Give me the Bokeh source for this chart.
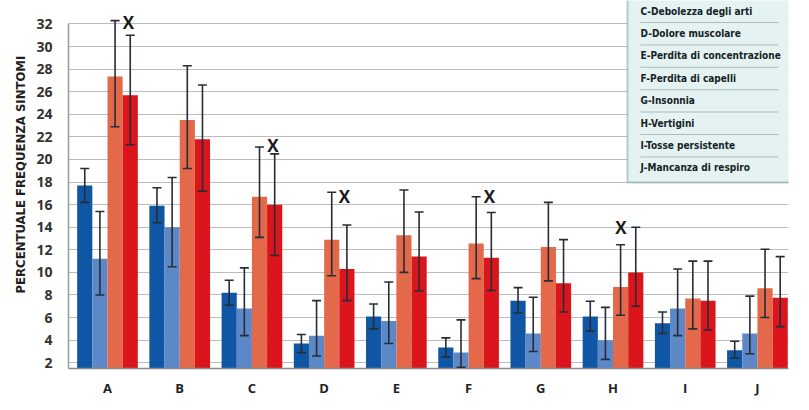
import numpy as np
from bokeh.plotting import figure
from bokeh.models import (ColumnDataSource, Whisker, TeeHead, FixedTicker, Range1d,
                          Label, BoxAnnotation, Title)
from bokeh.core.properties import value
from bokeh.embed import file_html
from bokeh.resources import INLINE

# ---------------- data ----------------
categories = ["A", "B", "C", "D", "E", "F", "G", "H", "I", "J"]

s1 = [17.7, 15.9, 8.2, 3.7, 6.1, 3.35, 7.5, 6.1, 5.5, 3.1]
s1_lo = [16.2, 14.4, 7.1, 2.9, 5.0, 2.5, 6.4, 4.8, 4.6, 2.4]
s1_hi = [19.2, 17.5, 9.3, 4.5, 7.2, 4.2, 8.65, 7.45, 6.5, 3.9]

s2 = [11.2, 14.0, 6.8, 4.4, 5.7, 2.9, 4.6, 4.0, 6.8, 4.6]
s2_lo = [8.0, 10.5, 4.4, 2.6, 3.7, 1.6, 3.0, 2.3, 4.4, 2.8]
s2_hi = [15.4, 18.4, 10.4, 7.5, 9.15, 5.8, 7.8, 6.9, 10.3, 7.9]

s3 = [27.35, 23.5, 16.7, 12.9, 13.3, 12.55, 12.25, 8.7, 7.7, 8.6]
s3_lo = [22.9, 19.2, 13.1, 9.7, 10.0, 9.45, 9.25, 6.2, 5.0, 6.0]
s3_hi = [32.3, 28.3, 21.1, 17.1, 17.3, 16.7, 16.2, 12.45, 11.0, 12.05]

s4 = [25.7, 21.8, 16.0, 10.3, 11.4, 11.3, 9.05, 10.0, 7.5, 7.75]
s4_lo = [21.3, 17.2, 11.5, 7.5, 8.35, 8.4, 6.5, 7.0, 4.9, 5.2]
s4_hi = [31.0, 26.6, 20.5, 14.2, 15.35, 15.3, 12.9, 14.0, 11.0, 11.4]

# significance marks "X"
x_mark_cats = ["A", "C", "D", "F", "H"]
x_mark_y = [32.1, 21.2, 16.7, 16.7, 14.0]
x_mark_off = [0.29, 0.29, 0.28, 0.29, 0.11]

y_ticks = list(range(2, 33, 2))

legend_labels = ["C-Debolezza degli arti", "D-Dolore muscolare",
                 "E-Perdita di concentrazione", "F-Perdita di capelli",
                 "G-Insonnia", "H-Vertigini", "I-Tosse persistente",
                 "J-Mancanza di respiro"]

y_title = "PERCENTUALE FREQUENZA SINTOMI"
credit = "L'EGO - HUB"

# ---------------- styling ----------------
colors = ["#0f56a4", "#5d88c7", "#e4694a", "#da161c"]
offsets = [-0.315, -0.105, 0.105, 0.315]
bar_w = 0.21
NARROW = "'DejaVu Sans Condensed', Lato, sans-serif"
SANS = "Open Sans"
ERR = "#262c38"

Y0, Y1 = 1.49, 34.08
X0, X1 = -0.54, 9.43

p = figure(width=809, height=410, output_backend="svg", toolbar_location=None,
           x_range=Range1d(X0, X1), y_range=Range1d(Y0, Y1),
           min_border_left=68, min_border_right=21, min_border_top=0,
           min_border_bottom=42)
p.outline_line_color = None
p.background_fill_color = "white"
p.border_fill_color = "white"

xs = np.arange(len(categories))
series = [(s1, s1_lo, s1_hi), (s2, s2_lo, s2_hi), (s3, s3_lo, s3_hi), (s4, s4_lo, s4_hi)]
for (vals, lo, hi), c, off in zip(series, colors, offsets):
    src = ColumnDataSource(dict(x=xs + off, top=vals, lo=lo, hi=hi))
    p.vbar(x="x", top="top", bottom=Y0, width=bar_w, source=src,
           fill_color=c, line_color=None)
    w = Whisker(source=src, base="x", upper="hi", lower="lo", dimension="height",
                line_color=ERR, line_width=1.6, level="overlay",
                upper_head=TeeHead(size=9, line_color=ERR, line_width=1.6),
                lower_head=TeeHead(size=9, line_color=ERR, line_width=1.6))
    p.add_layout(w)

mx = [categories.index(c) + o for c, o in zip(x_mark_cats, x_mark_off)]
p.text(x=mx, y=x_mark_y, text=["X"] * len(mx), text_font=value(SANS),
       text_font_style="bold", text_font_size="17px", text_color="#1a1a1a",
       text_align="center", text_baseline="middle")

# axes
p.xaxis.ticker = FixedTicker(ticks=list(xs))
p.xaxis.major_label_overrides = {int(i): c for i, c in zip(xs, categories)}
p.xaxis.major_tick_line_color = None
p.xaxis.minor_tick_line_color = None
p.xaxis.axis_line_color = "#8c8c8c"
p.xaxis.axis_line_width = 1.5
p.xaxis.major_label_text_font = SANS
p.xaxis.major_label_text_font_style = "bold"
p.xaxis.major_label_text_font_size = "13px"
p.xaxis.major_label_text_color = "#222222"
p.xaxis.major_label_standoff = 4

p.yaxis.ticker = FixedTicker(ticks=y_ticks)
p.yaxis.bounds = (Y0, 32)
p.yaxis.major_tick_line_color = None
p.yaxis.minor_tick_line_color = None
p.yaxis.axis_line_color = "#9a9a9a"
p.yaxis.axis_line_width = 1.5
p.yaxis.major_label_text_font = SANS
p.yaxis.major_label_text_font_style = "bold"
p.yaxis.major_label_text_font_size = "14px"
p.yaxis.major_label_text_color = "#333333"
p.yaxis.major_label_standoff = 10

p.xgrid.grid_line_color = None
p.ygrid.grid_line_color = "#bdbdbd"
p.ygrid.grid_line_width = 1

# y title
p.add_layout(Title(text=y_title, align="left", offset=75, standoff=11,
                   text_font=NARROW, text_font_style="bold", text_font_size="13px",
                   text_color="#1f1f1f"), "left")

# legend box (top cut off as in the reference)
p.add_layout(BoxAnnotation(left=627, right=793, top=-6, bottom=182,
                           left_units="canvas", right_units="canvas",
                           top_units="canvas", bottom_units="canvas",
                           fill_color="#e4f2f2", fill_alpha=1,
                           line_color="#2d6373", line_width=2, level="overlay"))
for i in range(len(legend_labels) - 1):
    ys = 21.5 + 22.4 * i
    p.add_layout(BoxAnnotation(left=640, right=778, top=ys, bottom=ys + 1,
                               left_units="canvas", right_units="canvas",
                               top_units="canvas", bottom_units="canvas",
                               fill_color="#a9bcbc", fill_alpha=1, line_color=None,
                               level="overlay"))
for i, t in enumerate(legend_labels):
    p.add_layout(Label(x=640, y=10.5 + 22.4 * i, x_units="canvas", y_units="canvas",
                       text=t, text_align="left", text_baseline="middle",
                       text_font=NARROW, text_font_style="bold",
                       text_font_size="10px", text_color="#142326", level="overlay"))

# footer rule and credit
p.add_layout(BoxAnnotation(left=10, right=809, top=400, bottom=401.5,
                           left_units="canvas", right_units="canvas",
                           top_units="canvas", bottom_units="canvas",
                           fill_color="#555555", fill_alpha=1, line_color=None))
p.add_layout(Label(x=745, y=402, x_units="canvas", y_units="canvas", text=credit,
                   text_align="left", text_baseline="top", text_font=NARROW,
                   text_font_size="8px", text_color="#222222"))

open("out.html", "w").write(file_html(p, INLINE))
